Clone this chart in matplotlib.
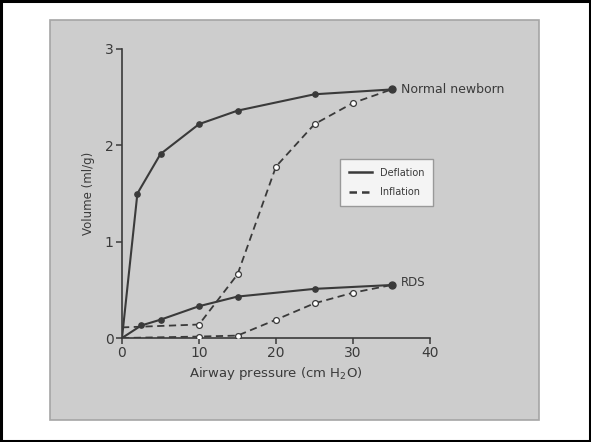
import matplotlib.pyplot as plt
from matplotlib.patches import Rectangle
from matplotlib.lines import Line2D

# Normal newborn
normal_defl_x = [0, 2, 5, 10, 15, 25, 35]
normal_defl_y = [0, 1.50, 1.91, 2.22, 2.36, 2.53, 2.58]
normal_infl_x = [0, 10, 15, 20, 25, 30, 35]
normal_infl_y = [0.11, 0.14, 0.66, 1.78, 2.22, 2.44, 2.58]

# Respiratory distress syndrome
rds_defl_x = [0, 2.5, 5, 10, 15, 25, 35]
rds_defl_y = [0, 0.13, 0.19, 0.33, 0.43, 0.51, 0.55]
rds_infl_x = [0, 10, 15, 20, 25, 30, 35]
rds_infl_y = [0, 0.015, 0.025, 0.19, 0.36, 0.47, 0.55]

x_ticks = [0, 10, 20, 30, 40]
y_ticks = [0, 1, 2, 3]

ink = '#3a3a3a'
panel = '#cdcdcd'

fig = plt.figure(figsize=(5.91, 4.42), dpi=100)
fig.patch.set_facecolor('white')

# outer black frame and grey panel, drawn behind the axes
fig.patches.append(Rectangle((0.002, 0.002), 0.996, 0.996, transform=fig.transFigure,
                             fill=False, edgecolor='black', linewidth=2.2, zorder=-10))
fig.patches.append(Rectangle((50 / 591, 1 - 420 / 442), 489 / 591, 400 / 442,
                             transform=fig.transFigure, facecolor=panel,
                             edgecolor='#a5a5a5', linewidth=1.2, zorder=-10))

ax = fig.add_axes([122 / 591, 1 - 338 / 442, 308 / 591, 289 / 442])
ax.set_facecolor('none')
ax.set_zorder(5)

for xs, ys in [(normal_infl_x, normal_infl_y), (rds_infl_x, rds_infl_y)]:
    ax.plot(xs, ys, color=ink, lw=1.3, ls=(0, (4, 2.5)), zorder=3)
    ax.plot(xs[1:-1], ys[1:-1], ls='none', marker='o', ms=4.2, mfc='white',
            mec=ink, mew=0.9, zorder=3)
for xs, ys in [(normal_defl_x, normal_defl_y), (rds_defl_x, rds_defl_y)]:
    ax.plot(xs, ys, color=ink, lw=1.5, zorder=4)
    ax.plot(xs[1:-1], ys[1:-1], ls='none', marker='o', ms=3.8, mfc=ink, mec=ink, zorder=4)
    ax.plot(xs[-1:], ys[-1:], ls='none', marker='o', ms=5, mfc=ink, mec=ink, zorder=4)

ax.set_xlim(0, 40)
ax.set_ylim(0, 3)
ax.set_xticks(x_ticks)
ax.set_yticks(y_ticks)
for s in ['top', 'right']:
    ax.spines[s].set_visible(False)
for s in ['left', 'bottom']:
    ax.spines[s].set_color(ink)
    ax.spines[s].set_linewidth(1.2)
ax.tick_params(colors=ink, labelsize=10, length=4, width=1.1, pad=2)
ax.set_xlabel('Airway pressure (cm H$_2$O)', fontsize=9.5, color=ink, labelpad=3)
ax.set_ylabel('Volume (ml/g)', fontsize=8.5, color=ink, labelpad=7)

ax.text(36.2, normal_defl_y[-1], 'Normal newborn', fontsize=9, color=ink, va='center',
        clip_on=False)
ax.text(36.2, rds_defl_y[-1] + 0.03, 'RDS', fontsize=8.5, color=ink, va='center',
        clip_on=False)

handles = [Line2D([], [], color=ink, lw=1.8),
           Line2D([], [], color=ink, lw=1.8, ls=(0, (3, 2)))]
leg = ax.legend(handles, ['Deflation', 'Inflation'], loc='upper left',
                bbox_to_anchor=((340 - 122) / 308, (338 - 159) / 289),
                fontsize=7, frameon=True, fancybox=False, handlelength=2.4,
                borderpad=0.9, labelspacing=1.0, handletextpad=0.8,
                borderaxespad=0)
leg.get_frame().set_edgecolor('#888888')
leg.get_frame().set_linewidth(1.0)
for t in leg.get_texts():
    t.set_color(ink)

fig.savefig('out.png', dpi=100)
